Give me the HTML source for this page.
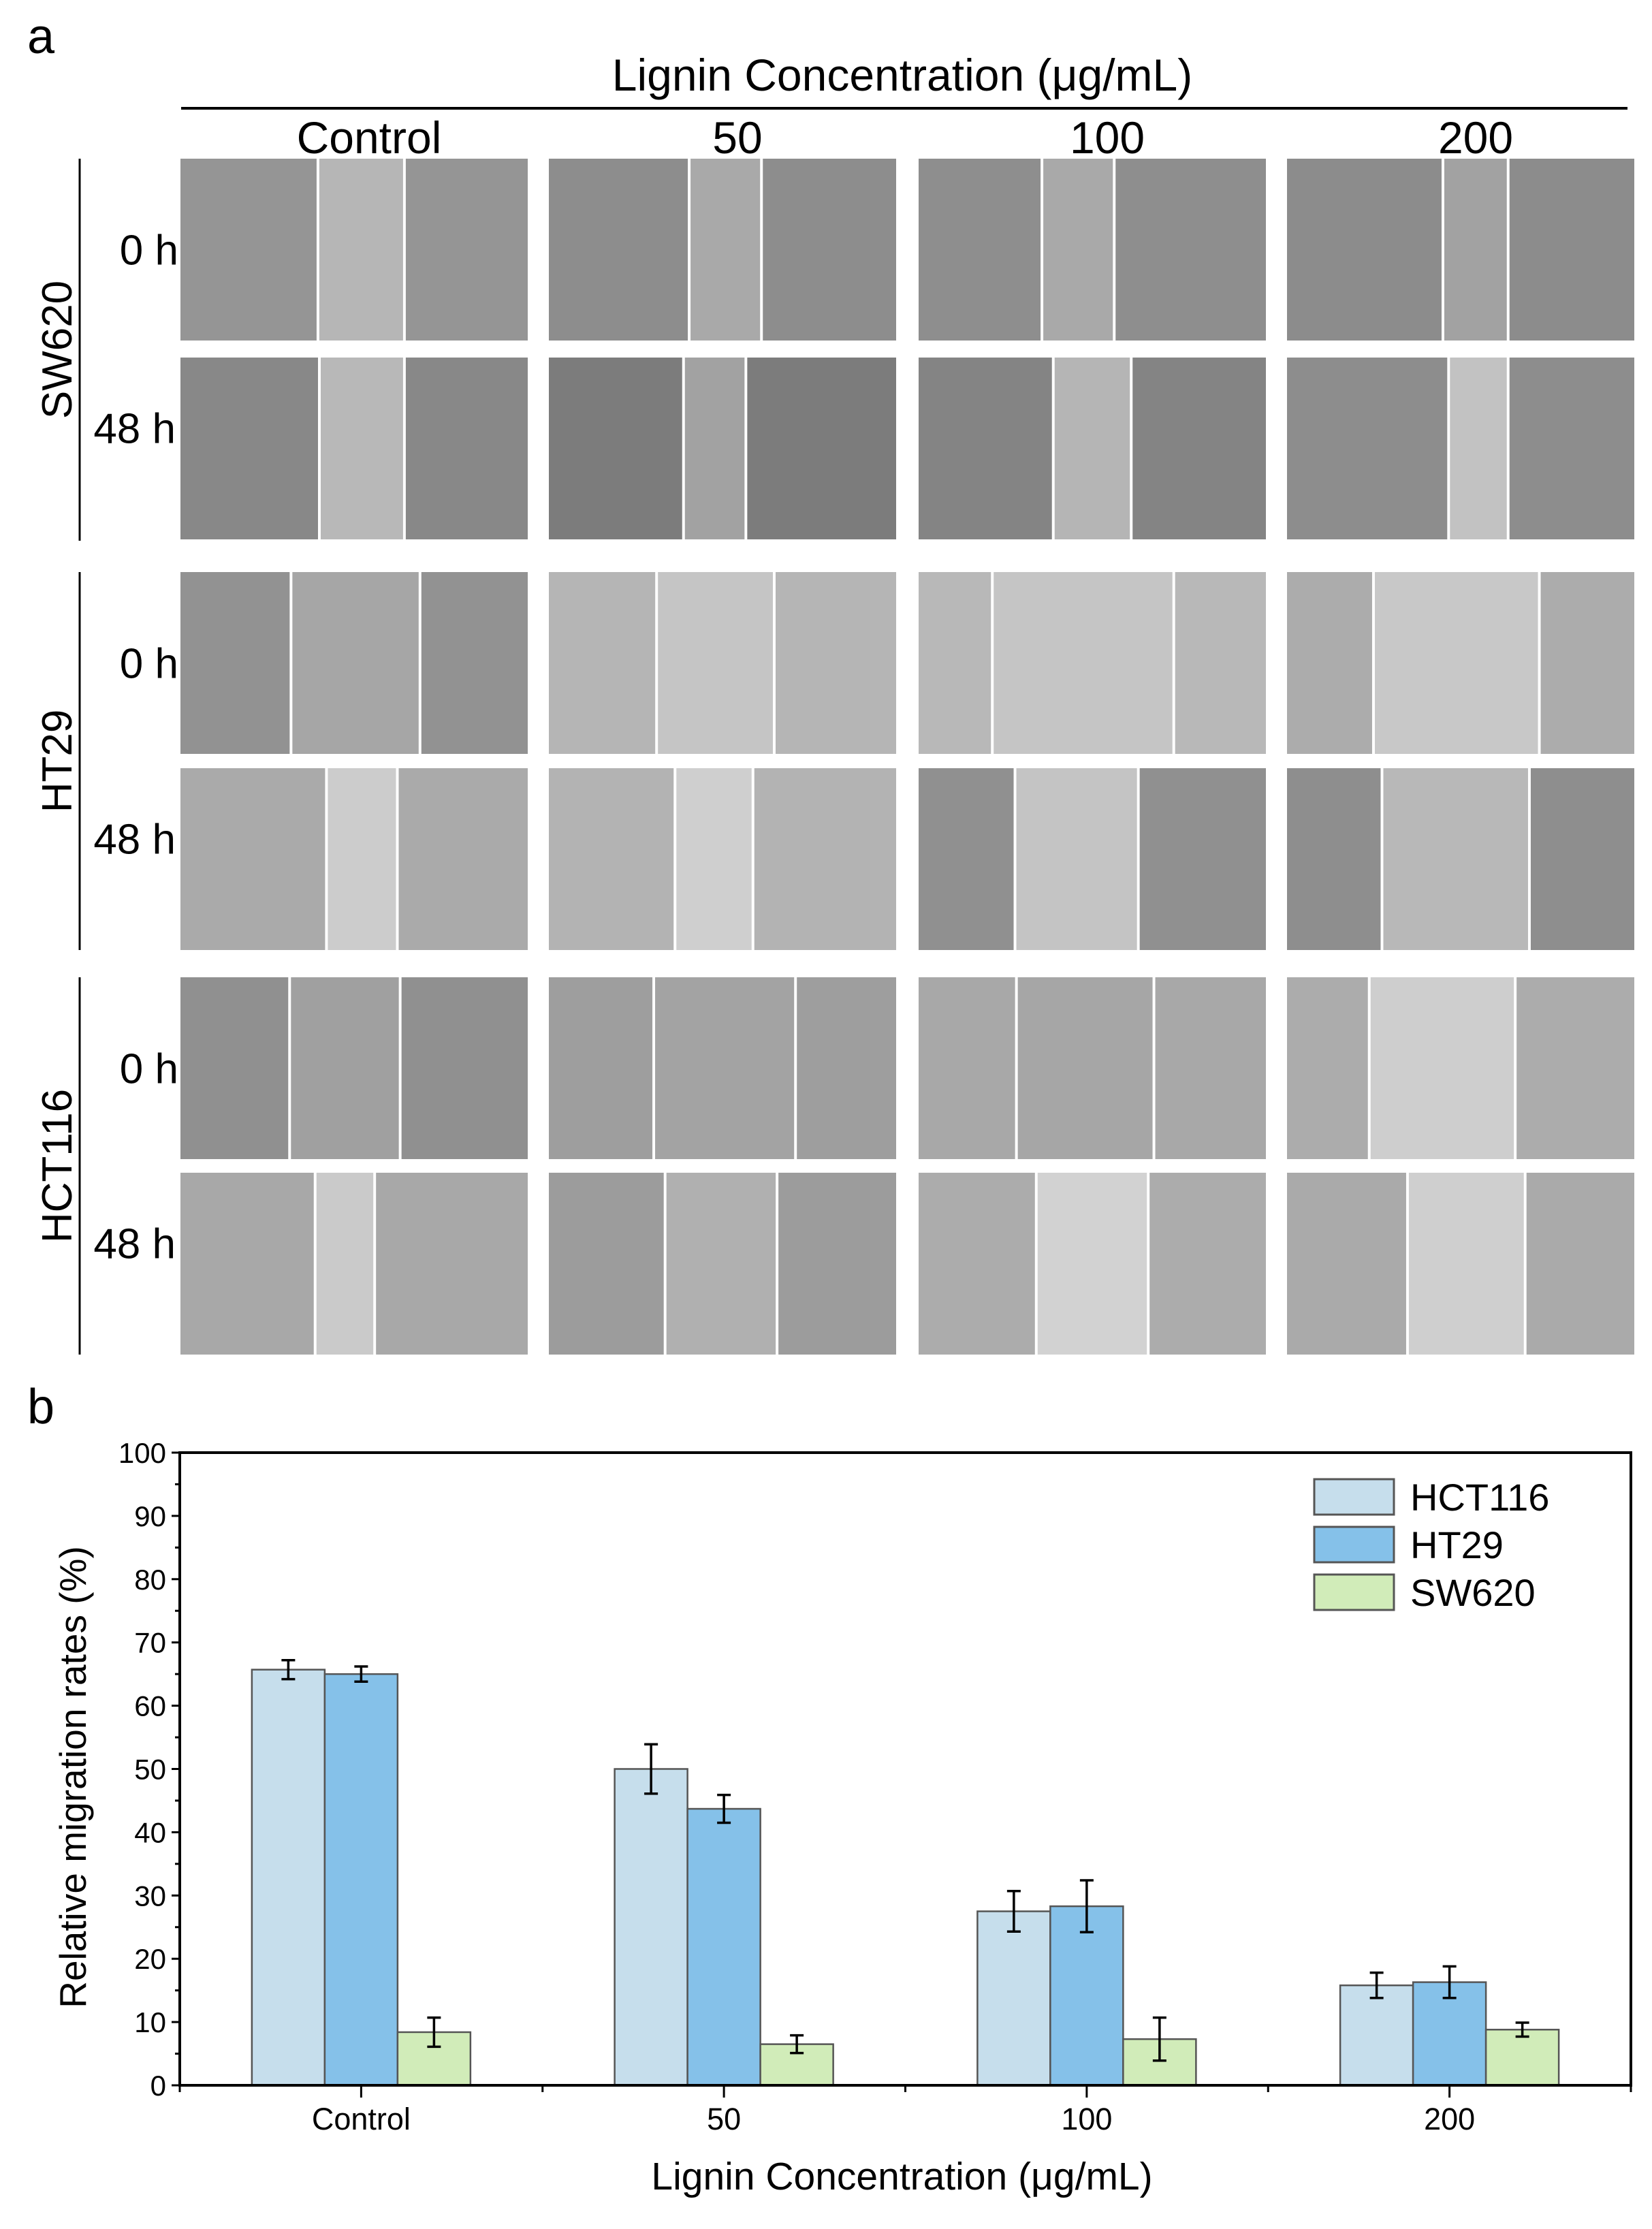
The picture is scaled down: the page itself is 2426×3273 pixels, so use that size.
<!DOCTYPE html>
<html><head><meta charset="utf-8"><style>
html,body{margin:0;padding:0;background:#fff}
svg{display:block;font-family:"Liberation Sans",Arial,sans-serif}
</style></head><body>
<svg id="fig" width="2426" height="3273" viewBox="0 0 2426 3273" xmlns="http://www.w3.org/2000/svg">
<text x="40" y="78" font-size="72">a</text>
<text x="1325" y="133" font-size="66" text-anchor="middle">Lignin Concentration (μg/mL)</text>
<line x1="266" y1="159" x2="2390" y2="159" stroke="#000" stroke-width="4"/>
<g id="imgs"></g>
<text x="40" y="2090" font-size="72">b</text>
<g id="chart"></g>
</svg>
<script>
const NS='http://www.w3.org/2000/svg';
function mk(tag,attrs,parent,txt){const e=document.createElementNS(NS,tag);for(const k in attrs)e.setAttribute(k,attrs[k]);if(txt!==undefined)e.textContent=txt;parent.appendChild(e);return e;}
// ---------- Panel a ----------
const imgs=document.getElementById('imgs');
const colX=[265,806,1349,1890], colW=510;
const rowY=[233,525,840,1128,1435,1722], rowH=267;
const colLabels=['Control','50','100','200'];
const prevLeft=[127,387,645,905];
const gaps=[
 [[224,285],[486,537],[732,783],[1015,1061]],
 [[225,285],[482,526],[740,795],[1019,1061]],
 [[205,296],[463,546],[697,825],[966,1083]],
 [[230,280],[476,531],[713,800],[972,1076]],
 [[204,282],[461,561],[714,811],[963,1066]],
 [[222,264],[469,548],[728,807],[990,1073]]];
const cellCol=[
 ['#959595','#8d8d8d','#8e8e8e','#8c8c8c'],
 ['#888888','#7c7c7c','#848484','#8d8d8d'],
 ['#929292','#b5b5b5','#b8b8b8','#acacac'],
 ['#aaaaaa','#b3b3b3','#909090','#8e8e8e'],
 ['#909090','#9e9e9e','#a8a8a8','#acacac'],
 ['#a8a8a8','#9c9c9c','#acacac','#aaaaaa']];
const gapCol=[
 ['#b6b6b6','#a9a9a9','#a9a9a9','#a2a2a2'],
 ['#b8b8b8','#a2a2a2','#b5b5b5','#c2c2c2'],
 ['#a6a6a6','#c5c5c5','#c5c5c5','#c8c8c8'],
 ['#cccccc','#cfcfcf','#c4c4c4','#b8b8b8'],
 ['#a0a0a0','#a3a3a3','#a6a6a6','#cecece'],
 ['#cacaca','#b0b0b0','#d2d2d2','#cfcfcf']];
colLabels.forEach((l,c)=>{
 const t=mk('text',{x:colX[c]+colW/2+22,y:225,'font-size':66,'text-anchor':'middle'},imgs,l);
 
 
});
for(let r=0;r<6;r++)for(let c=0;c<4;c++){
 const x=colX[c],y=rowY[r];
 const g=mk('g',{},imgs);
 
 
 mk('rect',{x:x,y:y,width:colW,height:rowH,fill:cellCol[r][c]},g);
 const a=x+(gaps[r][c][0]-prevLeft[c])/245*colW, b=x+(gaps[r][c][1]-prevLeft[c])/245*colW;
 mk('rect',{x:a,y:y,width:b-a,height:rowH,fill:gapCol[r][c]},g);
 mk('line',{x1:a,y1:y,x2:a,y2:y+rowH,stroke:'#fff','stroke-width':4},g);
 mk('line',{x1:b,y1:y,x2:b,y2:y+rowH,stroke:'#fff','stroke-width':4},g);
}
const groups=[['SW620',233,794],['HT29',840,1395],['HCT116',1435,1989]];
groups.forEach((gr,i)=>{
 const ln=mk('line',{x1:117,y1:gr[1],x2:117,y2:gr[2],stroke:'#000','stroke-width':3},imgs);
 
 
 const cy=(gr[1]+gr[2])/2;
 const t=mk('text',{x:0,y:0,'font-size':62,'text-anchor':'middle',transform:'translate(105,'+cy+') rotate(-90)'},imgs,gr[0]);
 
 
 const t0=mk('text',{x:262,y:rowY[i*2]+rowH/2+22,'font-size':62,'text-anchor':'end'},imgs,'0 h');
 
 
 const t1=mk('text',{x:258,y:rowY[i*2+1]+rowH/2-8,'font-size':62,'text-anchor':'end'},imgs,'48 h');
 
 
});
// ---------- Panel b ----------
const categories=['Control','50','100','200'];
const seriesNames=['HCT116','HT29','SW620'];
const hct116=[65.7,50.0,27.5,15.8];
const hct116Err=[1.5,3.9,3.2,2.0];
const ht29=[65.0,43.7,28.3,16.3];
const ht29Err=[1.2,2.2,4.1,2.5];
const sw620=[8.4,6.5,7.3,8.8];
const sw620Err=[2.3,1.4,3.4,1.1];
const yTicks=[0,10,20,30,40,50,60,70,80,90,100];
const chart=document.getElementById('chart');
const L=264,R=2395,T=2133,B=3062;
const yS=v=>B-(v/100)*(B-T);
const grpW=(R-L)/categories.length;
const xC=i=>L+grpW*(i+0.5);
const barW=107;
const colors=['#c6deec','#85c1e9','#d1ecb9'];
const vals=[hct116,ht29,sw620], errs=[hct116Err,ht29Err,sw620Err];
vals.forEach((s,si)=>{
 s.forEach((v,ci)=>{
  const cx=xC(ci)+(si-1)*barW;
  const r=mk('rect',{x:cx-barW/2,y:yS(v),width:barW,height:B-yS(v),fill:colors[si],stroke:'#555','stroke-width':2.5},chart);
  
  
  const e=errs[si][ci], g=mk('g',{stroke:'#000','stroke-width':3.5},chart);
  
  
  mk('line',{x1:cx,y1:yS(v+e),x2:cx,y2:yS(v-e)},g);
  mk('line',{x1:cx-10,y1:yS(v+e),x2:cx+10,y2:yS(v+e)},g);
  mk('line',{x1:cx-10,y1:yS(v-e),x2:cx+10,y2:yS(v-e)},g);
 });
});
const frame=mk('rect',{x:L,y:T,width:R-L,height:B-T,fill:'none',stroke:'#000','stroke-width':4},chart);


const yax=mk('g',{stroke:'#000','stroke-width':3},chart);


yTicks.forEach(v=>{
 mk('line',{x1:L-12,y1:yS(v),x2:L,y2:yS(v)},yax);
 if(v<100)mk('line',{x1:L-7,y1:yS(v+5),x2:L,y2:yS(v+5)},yax);
 const t=mk('text',{x:L-20,y:yS(v)+15,'font-size':42,'text-anchor':'end',stroke:'none',fill:'#000'},chart,String(v));
 
 
});
const xax=mk('g',{stroke:'#000','stroke-width':3},chart);


for(let i=0;i<=categories.length;i++)mk('line',{x1:L+grpW*i,y1:B,x2:L+grpW*i,y2:B+10},xax);
categories.forEach((c,i)=>{
 mk('line',{x1:xC(i),y1:B,x2:xC(i),y2:B+18},xax);
 const t=mk('text',{x:xC(i),y:B+65,'font-size':45,'text-anchor':'middle'},chart,c);
 
 
});
const xt=mk('text',{x:(L+R)/2-5,y:3215,'font-size':57,'text-anchor':'middle'},chart,'Lignin Concentration (μg/mL)');


const yt=mk('text',{x:0,y:0,'font-size':55,'text-anchor':'middle',transform:'translate(126,'+((T+B)/2+12)+') rotate(-90)'},chart,'Relative migration rates (%)');


seriesNames.forEach((n,i)=>{
 const y=2172+i*70;
 const g=mk('g',{},chart);
 
 
 mk('rect',{x:1930,y:y,width:117,height:52,fill:colors[i],stroke:'#555','stroke-width':3},g);
 mk('text',{x:2071,y:y+46,'font-size':56},g,n);
});
</script>
</body></html>
